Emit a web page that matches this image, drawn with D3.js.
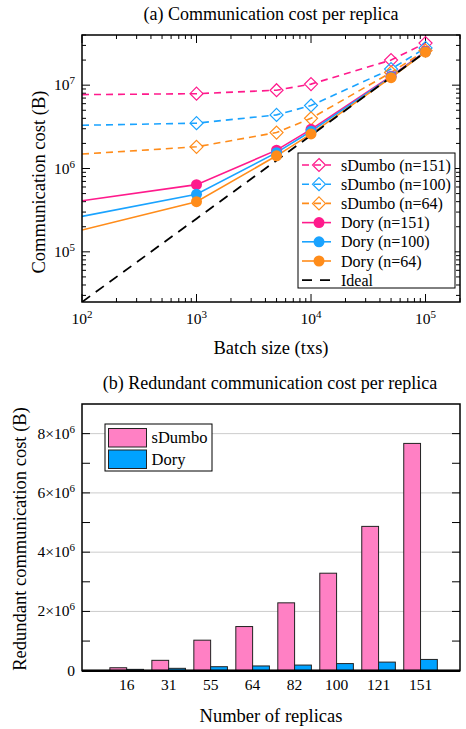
<!DOCTYPE html>
<html>

<head>
    <script type="text/javascript" src="https://d3js.org/d3.v7.min.js"></script>
    <style>
        body {
            margin: 0;
            background: white;
        }
    </style>
</head>

<body>
    <div id="svgcontainer"></div>
    <script language="javascript">
        var width = 466;
        var height = 729;
        var FONT = "Liberation Serif";

        // ---- data, chart (a) ----
        var batchSizes = [100, 1000, 5000, 10000, 50000, 100000];
        var sDumbo151 = [7.7e6, 7.9e6, 8.7e6, 1.03e7, 2.0e7, 3.2e7];
        var sDumbo100 = [3.3e6, 3.5e6, 4.4e6, 5.7e6, 1.56e7, 2.8e7];
        var sDumbo64 = [1.49e6, 1.82e6, 2.7e6, 4.0e6, 1.42e7, 2.6e7];
        var dory151 = [4.1e5, 6.4e5, 1.66e6, 2.95e6, 1.28e7, 2.55e7];
        var dory100 = [2.66e5, 4.9e5, 1.55e6, 2.8e6, 1.26e7, 2.52e7];
        var dory64 = [1.83e5, 4.0e5, 1.42e6, 2.6e6, 1.23e7, 2.5e7];
        var ideal = [2.5e4, 2.5e5, 1.25e6, 2.5e6, 1.25e7, 2.5e7];
        var xTicksA = [2, 3, 4, 5];
        var yTicksA = [5, 6, 7];

        // ---- data, chart (b) ----
        var replicas = ["16", "31", "55", "64", "82", "100", "121", "151"];
        var sDumboRedundant = [0.1e6, 0.35e6, 1.03e6, 1.49e6, 2.29e6, 3.29e6, 4.87e6, 7.67e6];
        var doryRedundant = [0.045e6, 0.08e6, 0.135e6, 0.16e6, 0.19e6, 0.24e6, 0.29e6, 0.38e6];
        var yTicksB = [0, 2e6, 4e6, 6e6, 8e6];

        var pink = "#ff1a8c";
        var blue = "#1aa3ff";
        var orange = "#ff8c1a";

        var svg = d3.select("#svgcontainer")
            .append("svg")
            .attr("width", width)
            .attr("height", height);

        function label(g, xPos, yPos, size) {
            return g.append("text").attr("x", xPos).attr("y", yPos)
                .attr("font-family", FONT).attr("font-size", size).attr("fill", "black");
        }

        // ================= chart (a) =================
        var x = d3.scaleLog().domain([100, 2e5]).range([82, 460]);
        var y = d3.scaleLog().domain([2.5e4, 4e7]).range([302, 35]);

        label(svg, 271, 20, 18).attr("text-anchor", "middle").text("(a) Communication cost per replica");

        svg.append("clipPath").attr("id", "clipA").append("rect")
            .attr("x", 82).attr("y", 35).attr("width", 378).attr("height", 267);

        // ticks, inward, on all four sides
        var gTicks = svg.append("g").attr("stroke", "black").attr("stroke-width", 1);
        var xMinor = [];
        for (var e = 2; e <= 5; e++) {
            for (var m = 1; m <= 9; m++) {
                var v = m * Math.pow(10, e);
                if (v <= 2e5) xMinor.push(v);
            }
        }
        xMinor.forEach(function (v) {
            var len = Math.abs(Math.log10(v) % 1) < 1e-9 ? 8 : 4;
            gTicks.append("line").attr("x1", x(v)).attr("x2", x(v)).attr("y1", 302).attr("y2", 302 - len);
            gTicks.append("line").attr("x1", x(v)).attr("x2", x(v)).attr("y1", 35).attr("y2", 35 + len);
        });
        var yMinor = [];
        for (var e2 = 4; e2 <= 7; e2++) {
            for (var m2 = 1; m2 <= 9; m2++) {
                var v2 = m2 * Math.pow(10, e2);
                if (v2 >= 2.5e4 && v2 <= 4e7) yMinor.push(v2);
            }
        }
        yMinor.forEach(function (v) {
            var len = Math.abs(Math.log10(v) % 1) < 1e-9 ? 8 : 4;
            gTicks.append("line").attr("y1", y(v)).attr("y2", y(v)).attr("x1", 82).attr("x2", 82 + len);
            gTicks.append("line").attr("y1", y(v)).attr("y2", y(v)).attr("x1", 460).attr("x2", 460 - len);
        });

        // tick labels with superscripts
        xTicksA.forEach(function (p) {
            var t = label(svg, x(Math.pow(10, p)), 324, 15.5).attr("text-anchor", "middle");
            t.append("tspan").text("10");
            t.append("tspan").attr("dy", -6).attr("font-size", 11).text(p);
        });
        yTicksA.forEach(function (p) {
            var t = label(svg, 75, y(Math.pow(10, p)) + 5, 15.5).attr("text-anchor", "end");
            t.append("tspan").text("10");
            t.append("tspan").attr("dy", -6).attr("font-size", 11).text(p);
        });

        label(svg, 271, 354, 18.5).attr("text-anchor", "middle").text("Batch size (txs)");
        label(svg, 0, 0, 18.5).attr("transform", "translate(45,182) rotate(-90)")
            .attr("text-anchor", "middle").text("Communication cost (B)");

        var line = d3.line()
            .x(function (d, i) { return x(batchSizes[i]); })
            .y(function (d) { return y(d); });

        var seriesA = [
            { name: "sDumbo (n=151)", values: sDumbo151, color: pink, dashed: true },
            { name: "sDumbo (n=100)", values: sDumbo100, color: blue, dashed: true },
            { name: "sDumbo (n=64)", values: sDumbo64, color: orange, dashed: true },
            { name: "Dory (n=151)", values: dory151, color: pink, dashed: false },
            { name: "Dory (n=100)", values: dory100, color: blue, dashed: false },
            { name: "Dory (n=64)", values: dory64, color: orange, dashed: false }
        ];

        var plotA = svg.append("g").attr("clip-path", "url(#clipA)");

        function diamond(g, cx, cy, color) {
            g.append("path")
                .attr("d", "M" + cx + "," + (cy - 6.5) + "L" + (cx + 6.5) + "," + cy + "L" + cx + "," + (cy + 6.5) + "L" + (cx - 6.5) + "," + cy + "Z")
                .attr("fill", "none").attr("stroke", color).attr("stroke-width", 1.2);
        }

        seriesA.forEach(function (s) {
            plotA.append("path").datum(s.values).attr("d", line)
                .attr("fill", "none").attr("stroke", s.color).attr("stroke-width", 1.6)
                .attr("stroke-dasharray", s.dashed ? "7,5" : null);
        });
        plotA.append("path").datum(ideal).attr("d", line)
            .attr("fill", "none").attr("stroke", "black").attr("stroke-width", 1.8)
            .attr("stroke-dasharray", "10,7");
        seriesA.forEach(function (s) {
            s.values.forEach(function (v, i) {
                if (i === 0) return;
                if (s.dashed) {
                    diamond(plotA, x(batchSizes[i]), y(v), s.color);
                } else {
                    plotA.append("circle").attr("cx", x(batchSizes[i])).attr("cy", y(v)).attr("r", 5.5).attr("fill", s.color);
                }
            });
        });

        svg.append("rect").attr("x", 82).attr("y", 35).attr("width", 378).attr("height", 267)
            .attr("fill", "none").attr("stroke", "black").attr("stroke-width", 1.5);

        // legend (a)
        var legA = svg.append("g");
        legA.append("rect").attr("x", 298).attr("y", 153).attr("width", 157).attr("height", 135)
            .attr("fill", "white").attr("stroke", "black").attr("stroke-width", 1);
        var legItems = seriesA.concat([{ name: "Ideal", color: "black", dashed: true, ideal: true }]);
        legItems.forEach(function (s, i) {
            var ly = 165 + i * 19.2;
            legA.append("line").attr("x1", 302).attr("x2", 331).attr("y1", ly).attr("y2", ly)
                .attr("stroke", s.color).attr("stroke-width", s.ideal ? 1.8 : 1.6)
                .attr("stroke-dasharray", s.ideal ? "10,8" : (s.dashed ? "7,5" : null));
            if (!s.ideal) {
                if (s.dashed) diamond(legA, 319, ly, s.color);
                else legA.append("circle").attr("cx", 319).attr("cy", ly).attr("r", 5.5).attr("fill", s.color);
            }
            label(legA, 341, ly + 5.5, 16).text(s.name);
        });

        // ================= chart (b) =================
        var xb = d3.scaleLinear().domain([-1.064, 7.94]).range([82, 460]);
        var yb = d3.scaleLinear().domain([0, 9e6]).range([670.7, 404]);

        label(svg, 270, 389, 18).attr("text-anchor", "middle").text("(b) Redundant communication cost per replica");

        var gGrid = svg.append("g");
        yTicksB.forEach(function (v) {
            if (v === 0) return;
            gGrid.append("line").attr("x1", 82).attr("x2", 460).attr("y1", yb(v)).attr("y2", yb(v))
                .attr("stroke", "#cccccc").attr("stroke-width", 1);
        });
        for (var k = 1; k <= 8; k++) {
            gGrid.append("line").attr("x1", 82).attr("x2", 90).attr("y1", yb(k * 1e6)).attr("y2", yb(k * 1e6))
                .attr("stroke", "black").attr("stroke-width", 1);
            gGrid.append("line").attr("x1", 452).attr("x2", 460).attr("y1", yb(k * 1e6)).attr("y2", yb(k * 1e6))
                .attr("stroke", "black").attr("stroke-width", 1);
        }

        var bw = 0.4;
        svg.append("g").selectAll("rect").data(sDumboRedundant).join("rect")
            .attr("x", function (d, i) { return xb(i - bw); })
            .attr("width", xb(bw) - xb(0))
            .attr("y", function (d) { return yb(d); })
            .attr("height", function (d) { return yb(0) - yb(d); })
            .attr("fill", "#ff80c4").attr("stroke", "#222").attr("stroke-width", 1);
        svg.append("g").selectAll("rect").data(doryRedundant).join("rect")
            .attr("x", function (d, i) { return xb(i); })
            .attr("width", xb(bw) - xb(0))
            .attr("y", function (d) { return yb(d); })
            .attr("height", function (d) { return yb(0) - yb(d); })
            .attr("fill", "#00a2ff").attr("stroke", "#222").attr("stroke-width", 1);

        svg.append("rect").attr("x", 82).attr("y", 404).attr("width", 378).attr("height", 266.7)
            .attr("fill", "none").attr("stroke", "black").attr("stroke-width", 1.5);
        svg.append("line").attr("x1", 82).attr("x2", 460).attr("y1", yb(0)).attr("y2", yb(0))
            .attr("stroke", "black").attr("stroke-width", 2.5);

        replicas.forEach(function (r, i) {
            label(svg, xb(i), 690, 15.5).attr("text-anchor", "middle").text(r);
        });
        yTicksB.forEach(function (v) {
            var t = label(svg, 75, yb(v) + 5, 15.5).attr("text-anchor", "end");
            if (v === 0) { t.text("0"); return; }
            t.append("tspan").text((v / 1e6) + "\u00d710");
            t.append("tspan").attr("dy", -6).attr("font-size", 11).text("6");
        });

        label(svg, 271, 722, 18.5).attr("text-anchor", "middle").text("Number of replicas");
        label(svg, 0, 0, 18.5).attr("transform", "translate(26,539) rotate(-90)")
            .attr("text-anchor", "middle").text("Redundant communication cost (B)");

        // legend (b)
        var legB = svg.append("g");
        legB.append("rect").attr("x", 105).attr("y", 424).attr("width", 107).attr("height", 47)
            .attr("fill", "white").attr("stroke", "black").attr("stroke-width", 1);
        [["sDumbo", "#ff80c4"], ["Dory", "#00a2ff"]].forEach(function (d, i) {
            var top = 428.5 + i * 21.5;
            legB.append("rect").attr("x", 108.5).attr("y", top).attr("width", 38).attr("height", 18.5)
                .attr("fill", d[1]).attr("stroke", "#222").attr("stroke-width", 1);
            label(legB, 151.5, top + 14.5, 16.5).text(d[0]);
        });
    </script>
</body>

</html>
